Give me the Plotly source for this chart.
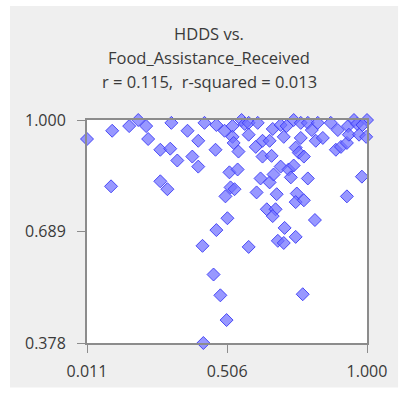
import plotly.graph_objects as go

# Food assistance received (x) vs. household dietary diversity score (y)
food_assistance = [
    0.011, 0.100, 0.160, 0.192, 0.220, 0.227, 0.270, 0.305, 0.309, 0.330,
    0.366, 0.383, 0.404, 0.404, 0.426, 0.465, 0.468, 0.096, 0.270, 0.295,
    0.468, 0.419, 0.582, 0.685, 0.706, 0.709, 0.748, 0.458, 0.482, 0.773,
    0.504, 0.422, 0.497, 0.525, 0.557, 0.568, 0.582, 0.614, 0.582, 0.525,
    0.529, 0.546, 0.607, 0.631, 0.656, 0.631, 0.663, 0.667, 0.695, 0.706,
    0.716, 0.741, 0.766, 0.791, 0.766, 0.748, 0.759, 0.777, 0.826, 0.805,
    0.819, 0.844, 0.872, 0.897, 0.890, 0.908, 0.929, 0.933, 0.954, 1.000,
    0.936, 0.972, 0.997, 0.982, 0.929, 0.514, 0.543, 0.518, 0.532, 0.500,
    0.507, 0.610, 0.624, 0.656, 0.670, 0.695, 0.723, 0.731, 0.741, 0.791,
    0.681, 0.752, 0.748, 0.777, 0.646, 0.677, 0.667, 0.816, 0.965, 0.984,
]
hdds = [
    0.947, 0.970, 0.983, 1.000, 0.983, 0.947, 0.917, 0.920, 0.992, 0.887,
    0.970, 0.898, 0.942, 0.870, 0.992, 0.917, 0.986, 0.815, 0.829, 0.807,
    0.693, 0.649, 0.646, 0.663, 0.657, 0.699, 0.674, 0.569, 0.511, 0.514,
    0.442, 0.378, 0.970, 0.983, 1.000, 0.989, 0.992, 0.992, 0.959, 0.953,
    0.936, 0.912, 0.925, 0.942, 0.942, 0.898, 0.900, 0.975, 0.986, 0.953,
    0.983, 1.000, 0.992, 0.992, 0.950, 0.923, 0.909, 0.898, 0.992, 0.972,
    0.942, 0.950, 0.992, 0.972, 0.917, 0.925, 0.936, 0.983, 1.000, 1.000,
    0.959, 0.959, 0.953, 0.842, 0.787, 0.854, 0.862, 0.812, 0.807, 0.787,
    0.726, 0.798, 0.837, 0.826, 0.848, 0.870, 0.862, 0.840, 0.873, 0.837,
    0.793, 0.795, 0.771, 0.776, 0.751, 0.751, 0.732, 0.721, 0.989, 0.986,
]

x_ticks = [0.011, 0.506, 1.000]
y_ticks = [0.378, 0.689, 1.000]
title_lines = [
    "HDDS vs.",
    "Food_Assistance_Received",
    "r = 0.115,  r-squared = 0.013",
]

FONT = "Open Sans"
TEXT = "#3a3a3a"
AXIS = "#8c8c8c"

fig = go.Figure(
    go.Scatter(
        x=food_assistance,
        y=hdds,
        mode="markers",
        cliponaxis=False,
        marker=dict(
            symbol="diamond",
            size=10,
            color="rgba(112,112,255,0.72)",
            line=dict(color="rgba(60,60,245,0.9)", width=1),
        ),
        hoverinfo="x+y",
    )
)

axis_common = dict(
    showgrid=False,
    zeroline=False,
    showline=True,
    linecolor=AXIS,
    linewidth=2,
    mirror=True,
    ticks="outside",
    ticklen=8,
    tickwidth=1,
    tickcolor=AXIS,
    tickfont=dict(family=FONT, size=16, color=TEXT),
)

fig.update_xaxes(
    range=[x_ticks[0], x_ticks[-1]],
    tickvals=x_ticks,
    ticktext=[f"{v:.3f}" for v in x_ticks],
    ticklabelstandoff=5,
    **axis_common,
)
fig.update_yaxes(
    range=[y_ticks[0], y_ticks[-1]],
    tickvals=y_ticks,
    ticktext=[f"{v:.3f}" for v in y_ticks],
    ticklabelstandoff=8,
    **axis_common,
)

# Gray chart panel, with the plotting area laid back over it in white
shapes = [
    dict(type="rect", xref="paper", yref="paper", layer="below",
         x0=-0.275, x1=1.111, y0=-0.2, y1=1.511,
         fillcolor="#efefef", line=dict(width=0)),
    dict(type="rect", xref="paper", yref="paper", layer="below",
         x0=0, x1=1, y0=0, y1=1,
         fillcolor="white", line=dict(width=0)),
]

annotations = [
    dict(text=t, xref="paper", yref="paper", x=0.436, y=yy,
         xanchor="center", yanchor="middle", showarrow=False,
         font=dict(family=FONT, size=16.5, color=TEXT))
    for t, yy in zip(title_lines, [1.387, 1.28, 1.173])
]

fig.update_layout(
    width=405,
    height=394,
    margin=dict(l=87, r=38, t=120, b=49),
    paper_bgcolor="white",
    plot_bgcolor="rgba(0,0,0,0)",
    showlegend=False,
    shapes=shapes,
    annotations=annotations,
)

fig.write_html("out.html")
